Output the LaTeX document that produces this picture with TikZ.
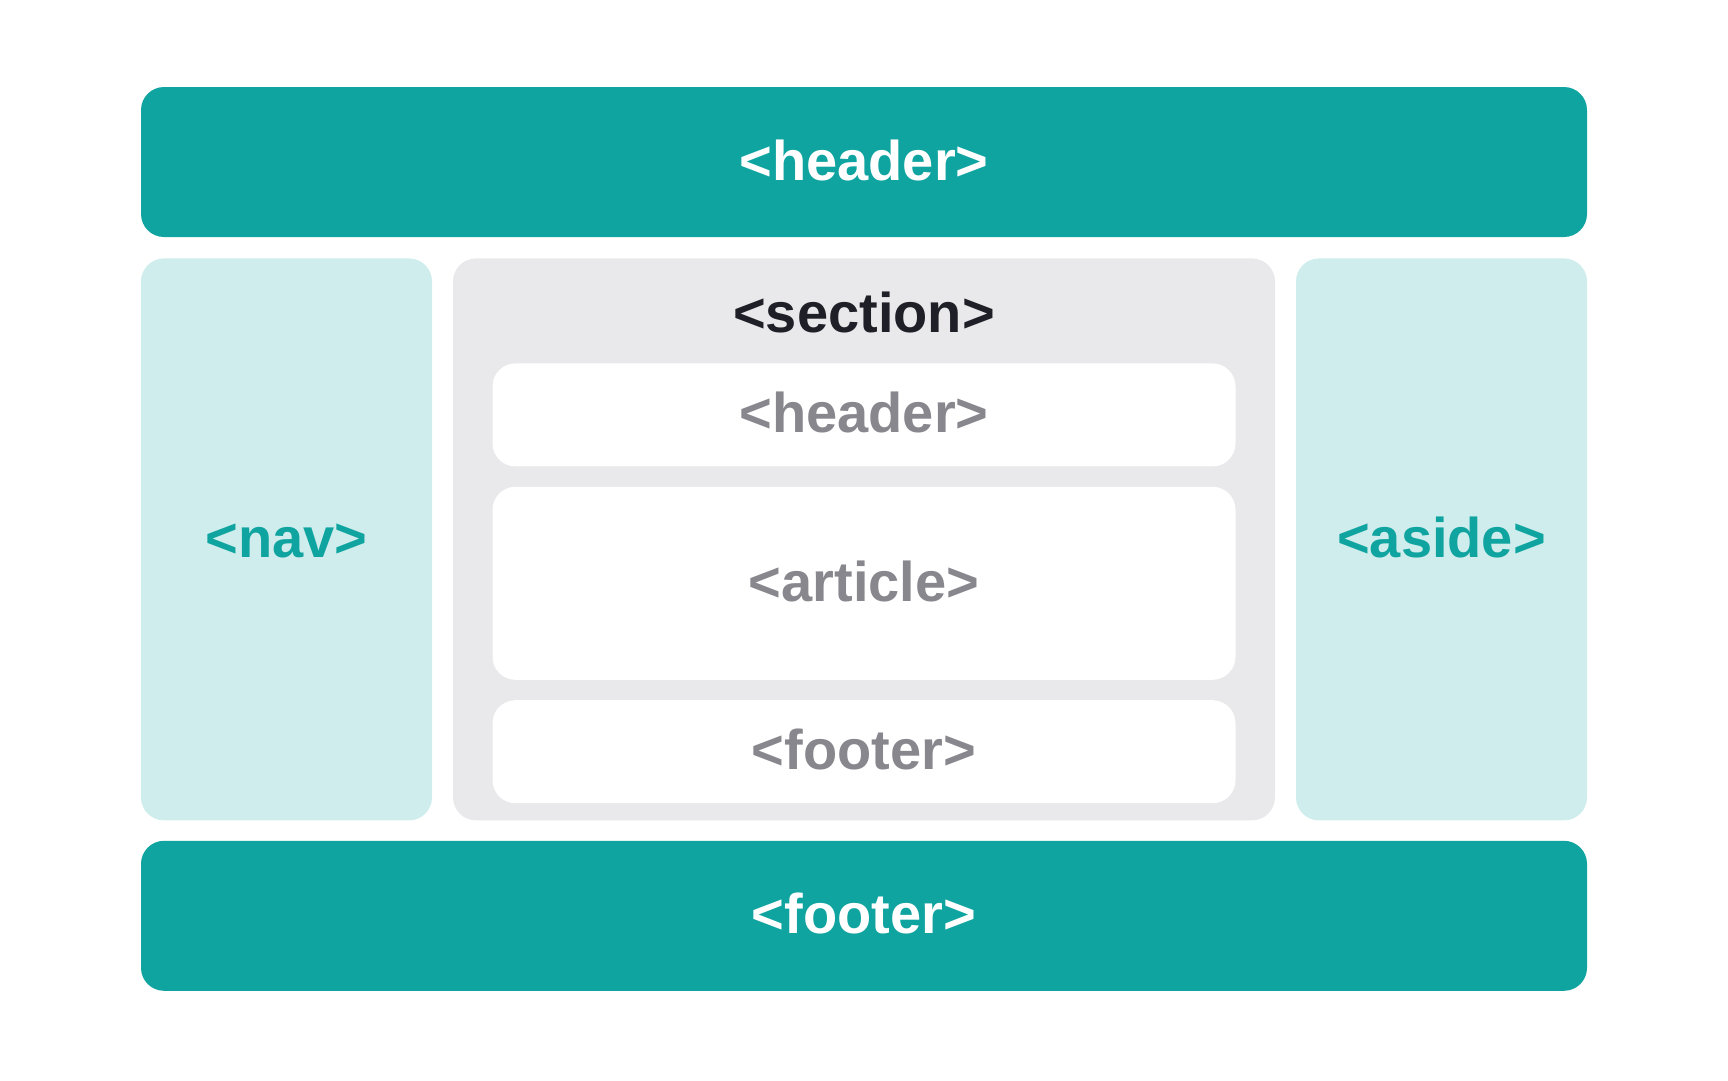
\documentclass[tikz,border=0pt]{standalone}
\usepackage{fontspec}
\setmainfont{Liberation Sans}
\usepackage{tikz}
\usetikzlibrary{positioning}

\definecolor{tagteal}{HTML}{0FA4A0}
\definecolor{sideteal}{HTML}{CFEDEC}
\definecolor{sectgray}{HTML}{E9E9EB}
\definecolor{sectdark}{HTML}{1F1F27}
\definecolor{partgray}{HTML}{88878D}

\begin{document}
\begin{tikzpicture}[x=1pt, y=-1pt,
        every node/.style={font=\fontsize{56}{60}\selectfont\bfseries, text height=36pt, text depth=0pt, inner sep=0pt},
        bar/.style={rectangle, fill=tagteal, text=white, rounded corners=23pt, minimum width=1446pt, minimum height=150pt},
        side/.style={rectangle, fill=sideteal, text=tagteal, rounded corners=23pt, minimum width=291pt, minimum height=562pt},
        sect/.style={rectangle, fill=sectgray, rounded corners=23pt, minimum width=822pt, minimum height=562pt},
        part/.style={rectangle, fill=white, text=partgray, rounded corners=23pt, minimum width=743pt}
    ]
        \useasboundingbox (0,0) rectangle (1728,1080);

        % Page header and footer
        \node[bar] (hdr) at (864,162) {<header>};

        % Middle row
        \node[side, below right=21pt and 0pt of hdr.south west] (nav) {<nav>};
        \node[sect, below=21pt of hdr.south] (sec) {};
        \node[side, below left=21pt and 0pt of hdr.south east] (aside) {<aside>};

        \node[bar, below=20pt of sec.south] (ftr) {<footer>};

        % Inside the section
        \node[text=sectdark, anchor=base] (seclbl) at ([yshift=-74pt]sec.north) {<section>};
        \node[part, minimum height=103pt, below=105pt of sec.north] (shdr) {<header>};
        \node[part, minimum height=193pt, below=20pt of shdr] (art) {<article>};
        \node[part, minimum height=103pt, below=20pt of art] (sftr) {<footer>};

    \end{tikzpicture}
\end{document}
